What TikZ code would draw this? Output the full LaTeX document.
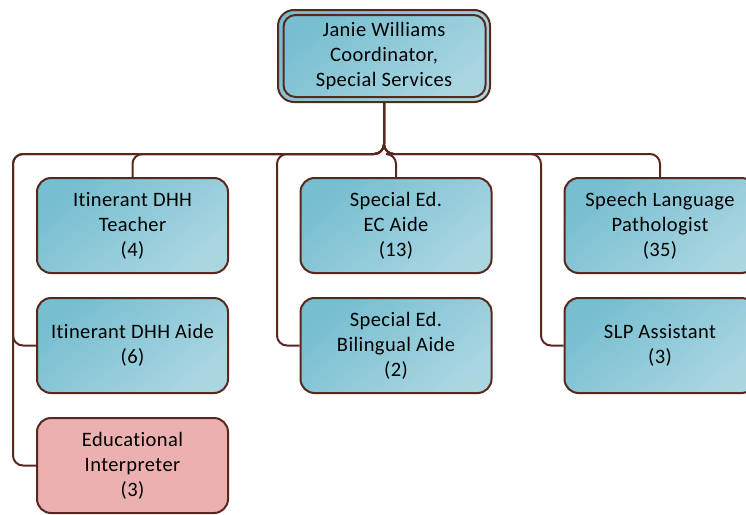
\documentclass[tikz,border=0pt]{standalone}
\usepackage{fontspec}
\setmainfont[Ligatures=NoCommon, LetterSpace=2]{Carlito}
\definecolor{lineC}{RGB}{88,40,30}
\definecolor{tealA}{RGB}{118,190,208}
\definecolor{tealB}{RGB}{170,214,226}
\definecolor{pinkC}{RGB}{236,176,176}
\begin{document}
\begin{tikzpicture}[x=1pt,y=-1pt,
  box/.style={draw=lineC, line width=2pt, rounded corners=14pt,
    minimum width=191pt, minimum height=95pt, inner sep=2pt,
    align=center, font=\fontsize{20.5}{25}\selectfont,
    top color=tealA, bottom color=tealB, shading angle=40},
  conn/.style={draw=lineC, line width=2pt, rounded corners=10pt}]
\useasboundingbox (0,0) rectangle (746,514);
% top node
\node[box, minimum width=212pt, minimum height=92pt, rounded corners=16pt] (top) at (384,56)
  {Janie Williams\\Coordinator,\\Special Services};
\draw[lineC, line width=2pt, rounded corners=12pt] (283.5,15) rectangle (485.5,97);
% children
\node[box] (t1) at (132.5,225.5) {Itinerant DHH\\Teacher\\(4)};
\node[box] (a1) at (132.5,345.5) {Itinerant DHH Aide\\(6)};
\node[box, top color=pinkC, bottom color=pinkC] (ei) at (132.5,465.5) {Educational\\Interpreter\\(3)};
\node[box] (ec) at (396,225.5) {Special Ed.\\EC Aide\\(13)};
\node[box] (ba) at (396,345.5) {Special Ed.\\Bilingual Aide\\(2)};
\node[box] (slp) at (660,225.5) {Speech Language\\Pathologist\\(35)};
\node[box] (sa) at (660,345.5) {SLP Assistant\\(3)};
% hub coordinates
\coordinate (hub) at (384,154);
\coordinate (L1) at (13,154);
\coordinate (L2) at (277,154);
\coordinate (L3) at (541,154);
% connectors
\path[conn] (top.south) -- (hub) -| (t1.north);
\path[conn] (top.south) -- (hub) -| (ec.north);
\path[conn] (top.south) -- (hub) -| (slp.north);
\path[conn] (top.south) -- (hub) -- (L1) |- (a1.west);
\path[conn] (top.south) -- (hub) -- (L1) |- (ei.west);
\path[conn] (top.south) -- (hub) -- (L2) |- (ba.west);
\path[conn] (top.south) -- (hub) -- (L3) |- (sa.west);
\end{tikzpicture}
\end{document}
